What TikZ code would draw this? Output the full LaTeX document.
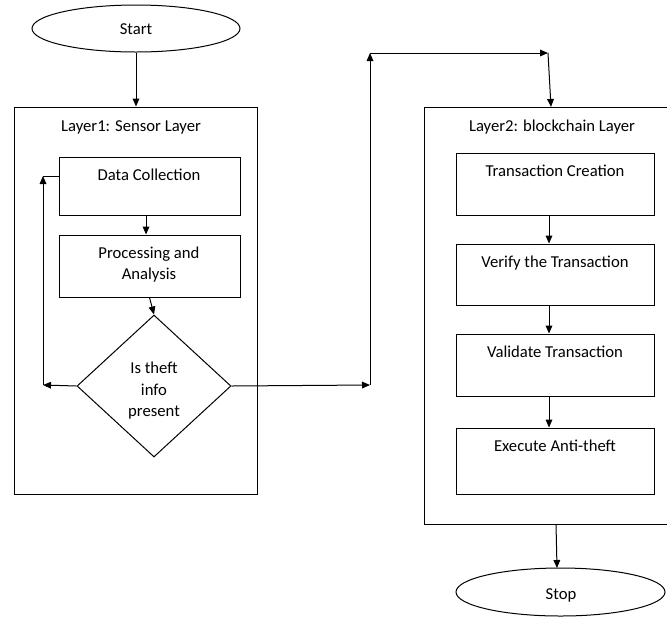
\documentclass[tikz,border=0pt]{standalone}
\usepackage{fontspec}
\setmainfont{Carlito}
\usetikzlibrary{shapes.geometric,arrows.meta}

\begin{document}
\begin{tikzpicture}[x=0.75pt,y=-0.75pt,
  line width=0.75pt,
  every node/.style={font=\fontsize{12.5pt}{16.25pt}\selectfont, inner sep=0pt},
  box/.style={draw, rectangle, minimum width=#1},
  box/.default=148.5pt,
  oval/.style={draw, ellipse},
  % fixed height/depth: a caption's position is that of its last line
  caption/.style={anchor=center, text height=8pt, text depth=2.2pt, align=center, yshift=-2.25pt},
  arr/.style={-{Triangle[width=5pt,length=6pt]}}
]
\useasboundingbox (0,0) rectangle (667,619);
\clip (0,0) rectangle (667,619);

% terminals
\node[oval, minimum width=156pt, minimum height=35.25pt] (start) at (136,28.5) {};
\node[caption] (starttxt) at (136,28) {Start};
\node[oval, minimum width=156.75pt, minimum height=36pt] (stop) at (560.5,592) {};
\node[caption] (stoptxt) at (561,593) {Stop};

% layer 1: sensor layer
\node[box=182.25pt, minimum height=290.25pt] (layer1) at (135.5,300.5) {};
\node[caption] (layer1txt) at (131,125) {Layer1: Sensor Layer};
\node[box=135.75pt, minimum height=43.5pt] (dc) at (149.5,186) {};
\node[caption] (dctxt) at (149,174) {Data Collection};
\node[box=135.75pt, minimum height=46.5pt] (proc) at (149.5,266) {};
\node[caption] (proctxt) at (149,273) {Processing and\\Analysis};
\node[draw, diamond, minimum width=115.5pt, minimum height=106.5pt] (dia) at (154,386) {};
\node[caption] (diatxt) at (154,410) {Is theft\\info\\present};

% layer 2: blockchain layer
\node[box=199.5pt, minimum height=312.75pt] (layer2) at (557,315.5) {};
\node[caption] (layer2txt) at (552,125) {Layer2: blockchain Layer};
\node[box, minimum height=46.5pt] (tc) at (555,184) {};
\node[caption] (tctxt) at (555,170) {Transaction Creation};
\node[box, minimum height=45.75pt] (vt) at (555,274.5) {};
\node[caption] (vttxt) at (555,261) {Verify the Transaction};
\node[box, minimum height=46.5pt] (vat) at (555,365) {};
\node[caption] (vattxt) at (555,351) {Validate Transaction};
\node[box, minimum height=49.5pt] (ea) at (555,461) {};
\node[caption] (eatxt) at (555,445) {Execute Anti-theft};

% routing points
\coordinate (fbL) at (43,385);
\coordinate (fbT) at (43,176);
\coordinate (j1) at (370,385);
\coordinate (j2) at (370,53);
\coordinate (j3) at (548,53);
\coordinate (l2in) at (551,107);
\coordinate (l2out) at (556,524);
\coordinate (stopin) at (557,568);

% connectors
\draw[arr] (start.south) -- (start.south |- layer1.north);
\draw[arr] ([xshift=-2.6pt]dc.south) -- ([xshift=-2.6pt]proc.north);
\draw[arr] (proc.south) -- (dia.north);
\draw[arr] (dia.west) -- (fbL);
\draw[arr] (fbL) -- (fbT);
\draw (fbT) -- (dc.west |- fbT);
\draw[arr] (dia.east) -- (j1);
\draw[arr] (j1) -- (j2);
\draw[arr] (j2) -- (j3);
\draw[arr] (j3) -- (l2in);
\draw[arr] ([xshift=-4.5pt]tc.south) -- ([xshift=-4.5pt]vt.north);
\draw[arr] ([xshift=-4.5pt]vt.south) -- ([xshift=-4.5pt]vat.north);
\draw[arr] ([xshift=-4.5pt]vat.south) -- ([xshift=-4.5pt]ea.north);
\draw[arr] (l2out) -- (stopin);
\end{tikzpicture}
\end{document}
